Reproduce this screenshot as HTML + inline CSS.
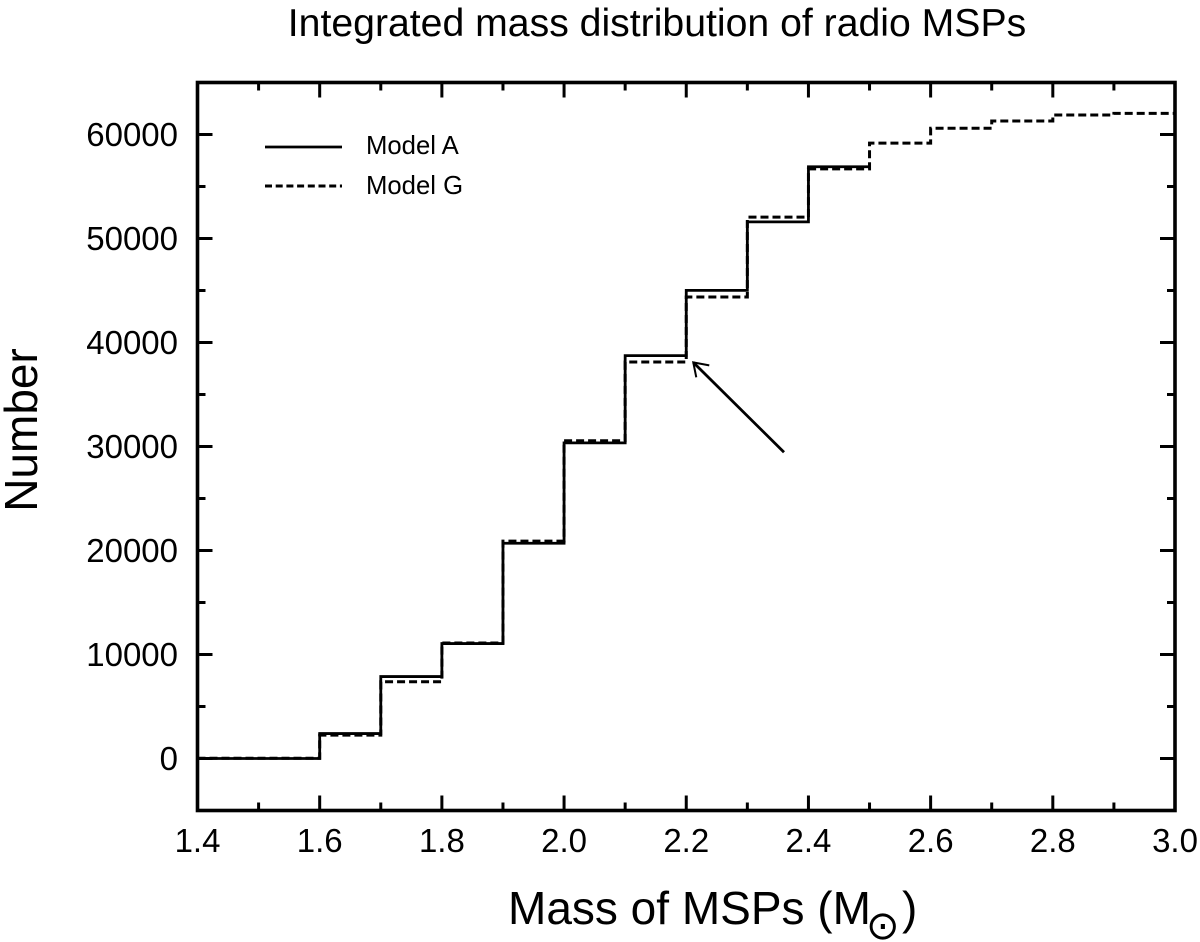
<!DOCTYPE html>
<html lang="en">
<head>
<meta charset="utf-8">
<title>Integrated mass distribution of radio MSPs</title>
<style>
html,body{margin:0;padding:0;background:#fff;width:1200px;height:942px;overflow:hidden}
svg{display:block}
text{font-family:"Liberation Sans",Arial,sans-serif;fill:#000}
</style>
</head>
<body>
<svg id="chart" width="1200" height="942" viewBox="0 0 1200 942" xmlns="http://www.w3.org/2000/svg">
  <text x="657" y="36" text-anchor="middle" font-size="39.2">Integrated mass distribution of radio MSPs</text>
  <text x="508" y="924" font-size="46">Mass of MSPs (M<tspan x="866" y="939" font-family="DejaVu Sans, sans-serif" font-size="40">⊙</tspan><tspan x="902" y="924">)</tspan></text>
  <text transform="translate(37 430) rotate(-90)" text-anchor="middle" font-size="46">Number</text>
  <g id="ticks"></g>
  <g id="labels"></g>
  <path id="line-a" fill="none" stroke="#000" stroke-width="2.8"></path>
  <path id="line-g" fill="none" stroke="#000" stroke-width="3" stroke-dasharray="8 4"></path>
  <rect x="197.5" y="82.5" width="977.5" height="728" fill="none" stroke="#000" stroke-width="3.6"></rect>
  <g id="arrow" fill="none" stroke="#000" stroke-width="2.8"></g>
  <g>
    <line x1="265" y1="147" x2="342" y2="147" stroke="#000" stroke-width="2.8"></line>
    <text x="366" y="154" font-size="25.7">Model A</text>
    <line x1="265" y1="186" x2="342" y2="186" stroke="#000" stroke-width="3" stroke-dasharray="7 3.7"></line>
    <text x="366" y="194" font-size="25.7">Model G</text>
  </g>
</svg>
<script>
const binEdges = [1.4, 1.6, 1.7, 1.8, 1.9, 2.0, 2.1, 2.2, 2.3, 2.4, 2.5, 2.6, 2.7, 2.8, 2.9, 3.0];
const modelA = [0, 2400, 7880, 11050, 20700, 30350, 38740, 45010, 51600, 56900];
const modelG = [30, 2250, 7380, 11100, 20900, 30550, 38130, 44370, 52050, 56700, 59170, 60600, 61300, 61880, 62030];
const xTicks = [1.4, 1.5, 1.6, 1.7, 1.8, 1.9, 2.0, 2.1, 2.2, 2.3, 2.4, 2.5, 2.6, 2.7, 2.8, 2.9, 3.0];
const xLabels = ["1.4", "1.6", "1.8", "2.0", "2.2", "2.4", "2.6", "2.8", "3.0"];
const yTicks = [-5000, 0, 5000, 10000, 15000, 20000, 25000, 30000, 35000, 40000, 45000, 50000, 55000, 60000, 65000];
const yLabels = ["0", "10000", "20000", "30000", "40000", "50000", "60000"];
const arrowTail = [2.36, 29450];
const arrowTip = [2.2115, 38090];

const NS = 'http://www.w3.org/2000/svg';
const xScale = v => 197.5 + (v - 1.4) * (977.5 / 1.6);
const yScale = v => 810.5 - (v + 5000) * (728 / 70000);

function stepPath(values) {
  let d = '';
  values.forEach((v, i) => {
    d += (i === 0 ? 'M' : 'L') + xScale(binEdges[i]).toFixed(2) + ' ' + yScale(v).toFixed(2);
    d += 'L' + xScale(binEdges[i + 1]).toFixed(2) + ' ' + yScale(v).toFixed(2);
  });
  return d;
}
document.getElementById('line-a').setAttribute('d', stepPath(modelA));
document.getElementById('line-g').setAttribute('d', stepPath(modelG));

function tickLine(parent, x1, y1, x2, y2) {
  const el = document.createElementNS(NS, 'line');
  el.setAttribute('x1', x1);
  el.setAttribute('y1', y1);
  el.setAttribute('x2', x2);
  el.setAttribute('y2', y2);
  el.setAttribute('stroke', '#000');
  el.setAttribute('stroke-width', '3');
  
  
  parent.appendChild(el);
}
const tickGroup = document.getElementById('ticks');
xTicks.forEach(v => {
  const major = xLabels.includes(v.toFixed(1));
  const len = major ? 15 : 8;
  const x = xScale(v);
  tickLine(tickGroup, x, 810.5, x, 810.5 - len);
  tickLine(tickGroup, x, 82.5, x, 82.5 + len);
});
yTicks.forEach(v => {
  const major = yLabels.includes(String(v));
  const len = major ? 15 : 8;
  const y = yScale(v);
  tickLine(tickGroup, 197.5, y, 197.5 + len, y);
  tickLine(tickGroup, 1175, y, 1175 - len, y);
});

const labelGroup = document.getElementById('labels');
xLabels.forEach(s => {
  const t = document.createElementNS(NS, 'text');
  t.setAttribute('x', xScale(parseFloat(s)));
  t.setAttribute('y', 852);
  t.setAttribute('text-anchor', 'middle');
  t.setAttribute('font-size', '33');
  
  
  t.textContent = s;
  labelGroup.appendChild(t);
});
yLabels.forEach(s => {
  const t = document.createElementNS(NS, 'text');
  t.setAttribute('x', 178);
  t.setAttribute('y', yScale(parseFloat(s)) + 11.5);
  t.setAttribute('text-anchor', 'end');
  t.setAttribute('font-size', '33');
  
  
  t.textContent = s;
  labelGroup.appendChild(t);
});

const arrowGroup = document.getElementById('arrow');
const tipX = xScale(arrowTip[0]);
const tipY = yScale(arrowTip[1]);
const arrowLine = document.createElementNS(NS, 'line');
arrowLine.setAttribute('x1', xScale(arrowTail[0]));
arrowLine.setAttribute('y1', yScale(arrowTail[1]));
arrowLine.setAttribute('x2', tipX);
arrowLine.setAttribute('y2', tipY);


arrowGroup.appendChild(arrowLine);
const arrowHead = document.createElementNS(NS, 'path');
arrowHead.setAttribute('d', 'M' + (tipX + 16) + ' ' + (tipY + 3) + 'L' + tipX + ' ' + tipY + 'L' + (tipX + 3) + ' ' + (tipY + 15));
arrowHead.setAttribute('stroke-width', '2');


arrowGroup.appendChild(arrowHead);
</script>
</body>
</html>
